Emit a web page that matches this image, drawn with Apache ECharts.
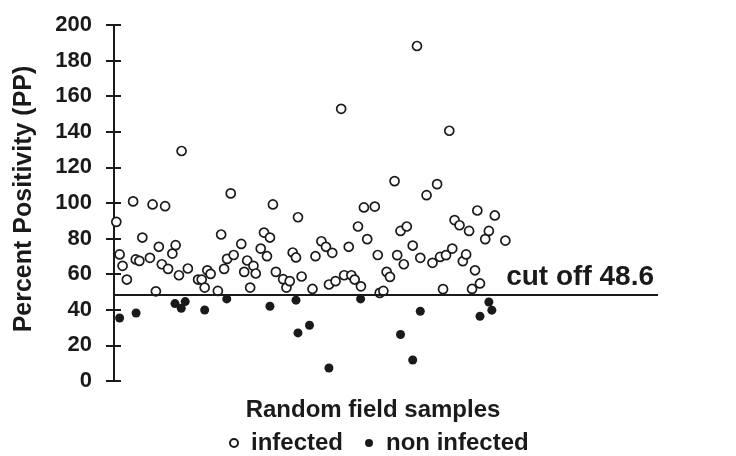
<!DOCTYPE html>
<html>
<head>
<meta charset="utf-8">
<script src="https://cdn.jsdelivr.net/npm/echarts@6/dist/echarts.min.js"></script>
<style>
  html, body { margin: 0; padding: 0; background: #fff; }
  #chart { width: 736px; height: 456px; }
</style>
</head>
<body>
<div id="chart"></div>
<script>
// sample position along the (unlabelled) x axis and percent positivity
var infectedSample = [0.7, 1.7, 2.6, 3.9, 5.8, 6.6, 7.7, 8.6, 10.9, 11.7, 12.7, 13.6, 14.5, 15.5, 16.4, 17.7, 18.7, 19.7, 20.5, 22.4,
    25.5, 26.6, 27.5, 28.3, 29.3, 31.5, 32.5, 33.4, 34.3, 35.4, 36.3, 38.6, 39.5, 40.4, 41.3, 42.3, 43.0, 44.5, 45.5, 46.4,
    47.3, 48.2, 49.1, 51.3, 52.3, 53.3, 54.2, 55.2, 55.8, 56.9, 60.2, 61.1, 62.9, 64.3, 65.2, 66.2, 67.2, 68.9, 69.8, 71.2,
    72.0, 73.0, 74.0, 74.9, 75.8, 76.8, 79.1, 80.0, 80.6, 81.7, 82.7, 83.7, 85.1, 85.9, 86.9, 87.9, 88.8, 90.6, 91.9, 92.9,
    94.8, 96.6, 98.0, 98.9, 99.8, 100.7, 101.7, 102.6, 103.3, 104.8, 105.8, 106.8, 107.7, 108.6, 109.5, 110.2, 111.0, 112.6, 113.7, 115.5,
    118.7];
var infectedPP = [89.4, 71.1, 64.7, 57.0, 100.9, 68.3, 67.5, 80.6, 69.2, 99.2, 50.4, 75.4, 65.6, 98.2, 63.0, 71.6, 76.3, 59.4, 129.2, 63.2,
    57.0, 57.0, 52.5, 62.2, 60.2, 50.6, 82.3, 63.0, 68.6, 105.4, 70.8, 77.0, 61.3, 67.7, 52.5, 64.7, 60.4, 74.4, 83.4, 70.1,
    80.6, 99.2, 61.3, 57.2, 52.5, 56.1, 72.2, 69.4, 92.0, 58.7, 51.7, 70.1, 78.5, 75.4, 54.2, 72.0, 56.1, 152.9, 59.4, 75.4,
    59.4, 57.0, 86.8, 53.2, 97.5, 79.7, 98.0, 70.8, 49.5, 50.6, 61.3, 58.5, 112.3, 70.7, 84.3, 65.6, 86.8, 76.1, 188.2, 69.2,
    104.4, 66.4, 110.6, 69.7, 51.6, 70.7, 140.6, 74.4, 90.4, 87.5, 67.3, 71.1, 84.3, 51.7, 62.2, 95.8, 54.8, 79.7, 84.3, 93.0,
    78.9];

var nonInfectedSample = [1.7, 6.7, 18.5, 20.4, 21.6, 27.5, 34.2, 47.3, 55.2, 55.8, 59.3, 65.2, 74.8, 86.9, 90.6, 92.9, 111.0, 113.7, 114.6];
var nonInfectedPP = [35.4, 38.2, 43.5, 40.9, 44.6, 39.9, 46.1, 42.0, 45.4, 27.0, 31.3, 7.3, 46.1, 26.1, 11.8, 39.2, 36.4, 44.4, 39.8];

var cutOff = 48.6;
var yTicks = [0, 200, 20]; // min, max, step

function pairs(xs, ys) {
    return xs.map(function (x, i) { return [x, ys[i]]; });
}

var font = '"Liberation Sans", Arial, sans-serif';
var ink = '#1a1a1a';

var chart = echarts.init(document.getElementById('chart'));
var option = {
    animation: false,
    backgroundColor: '#fff',
    grid: { left: 114, right: 78, top: 25, bottom: 75 },
    legend: {
        left: 224,
        top: 426,
        itemWidth: 8,
        itemHeight: 8,
        itemGap: 22,
        textStyle: { fontFamily: font, fontSize: 24, fontWeight: 'bold', color: ink, padding: [0, 0, 0, 8] },
        data: ['infected', 'non infected']
    },
    xAxis: {
        type: 'value',
        min: 0,
        max: 165,
        name: 'Random field samples',
        nameLocation: 'middle',
        nameGap: 17,
        nameTextStyle: { fontFamily: font, fontSize: 24, fontWeight: 'bold', color: ink, padding: [0, 26, 0, 0] },
        axisLine: { show: false },
        axisTick: { show: false },
        axisLabel: { show: false },
        splitLine: { show: false }
    },
    yAxis: [{
        type: 'value',
        min: yTicks[0],
        max: yTicks[1],
        interval: yTicks[2],
        name: 'Percent Positivity (PP)',
        nameLocation: 'middle',
        nameGap: 77,
        nameTextStyle: { fontFamily: font, fontSize: 25, fontWeight: 'bold', color: ink, padding: [0, 0, 0, 8] },
        axisLine: { show: true, lineStyle: { color: ink, width: 2 } },
        axisTick: { show: true, length: 8, lineStyle: { color: ink, width: 2 } },
        axisLabel: { fontFamily: font, fontSize: 22, fontWeight: 'bold', color: ink, margin: 22 },
        splitLine: { show: false }
    }, {
        // inner half of the crossing ticks
        type: 'value',
        position: 'right',
        offset: -544,
        min: yTicks[0],
        max: yTicks[1],
        interval: yTicks[2],
        axisLine: { show: false },
        axisTick: { show: true, length: 7, lineStyle: { color: ink, width: 2 } },
        axisLabel: { show: false },
        splitLine: { show: false }
    }],
    series: [{
        name: 'infected',
        type: 'scatter',
        symbol: 'circle',
        symbolSize: 9,
        itemStyle: { color: '#fff', borderColor: ink, borderWidth: 1.7, opacity: 1 },
        data: pairs(infectedSample, infectedPP),
        markLine: {
            silent: true,
            symbol: 'none',
            lineStyle: { color: ink, width: 2, type: 'solid' },
            label: {
                position: 'insideEndTop',
                formatter: 'cut off ' + cutOff,
                fontFamily: font,
                fontSize: 28,
                fontWeight: 'bold',
                color: ink,
                distance: [4, 3]
            },
            data: [{ yAxis: cutOff }]
        }
    }, {
        name: 'non infected',
        type: 'scatter',
        symbol: 'circle',
        symbolSize: 9,
        itemStyle: { color: ink, opacity: 1 },
        data: pairs(nonInfectedSample, nonInfectedPP)
    }]
};

chart.setOption(option);
</script>
</body>
</html>
